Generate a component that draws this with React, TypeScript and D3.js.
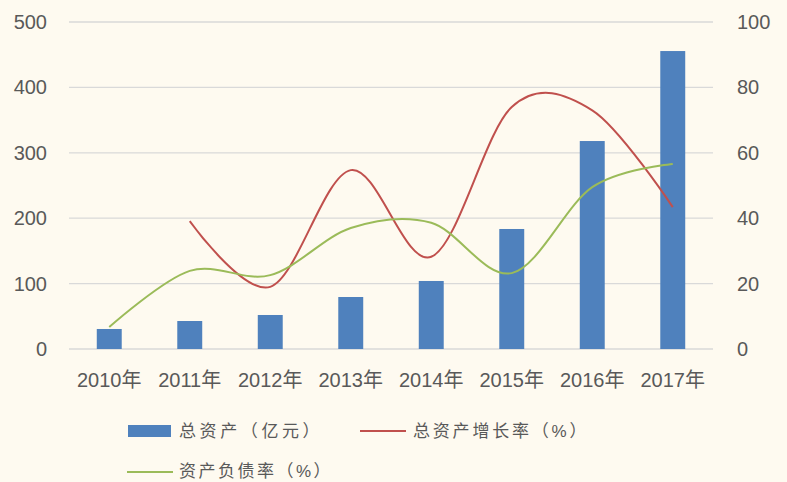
import React from 'react'
import * as d3 from 'd3'

const years = ['2010年', '2011年', '2012年', '2013年', '2014年', '2015年', '2016年', '2017年']
const totalAssets = [30.6, 42.8, 52, 79.5, 104, 183.5, 318, 455.6]
const growthRate = [null, 39.1, 19, 54.7, 28.2, 74, 73, 43.4]
const debtRatio = [6.7, 23.9, 22.6, 37, 38.6, 23.2, 49.5, 56.6]
const leftTicks = [0, 100, 200, 300, 400, 500]
const rightTicks = [0, 20, 40, 60, 80, 100]

const W = 787
const H = 482
const margin = { top: 22, right: 74, bottom: 133, left: 69 }
const font = '"Liberation Sans", "Noto Sans CJK SC", sans-serif'
const textColor = '#595959'

export default function App() {
  const x = d3.scaleBand().domain(years).range([margin.left, W - margin.right]).paddingInner(0.69).paddingOuter(0.345)
  const yL = d3.scaleLinear().domain([0, 500]).range([H - margin.bottom, margin.top])
  const yR = d3.scaleLinear().domain([0, 100]).range([H - margin.bottom, margin.top])
  const cx = (d: string) => (x(d) as number) + x.bandwidth() / 2

  const line = d3.line<[string, number | null]>()
    .defined(d => d[1] != null)
    .x(d => cx(d[0]))
    .y(d => yR(d[1] as number))
    .curve(d3.curveCardinal.tension(0))

  const growthPts = years.map((y, i) => [y, growthRate[i]] as [string, number | null]).filter(d => d[1] != null)
  const debtPts = years.map((y, i) => [y, debtRatio[i]] as [string, number | null])

  return (
    <div>
      <style>{`body{margin:0;background:#fefaf0}`}</style>
      <svg width={W} height={H} style={{ display: 'block', background: '#fefaf0' }}>
        {/* grid + left axis */}
        {leftTicks.map(t => (
          <g key={t}>
            <line x1={margin.left} x2={W - margin.right} y1={yL(t)} y2={yL(t)} stroke="#d9d9d9" strokeWidth={1.3} />
            <text x={47} y={yL(t)} dy="0.35em" textAnchor="end" fontSize={20} fill={textColor} fontFamily={font}>{t}</text>
          </g>
        ))}
        {rightTicks.map(t => (
          <text key={t} x={737} y={yR(t)} dy="0.35em" textAnchor="start" fontSize={20} fill={textColor} fontFamily={font}>{t}</text>
        ))}
        {/* bars */}
        {years.map((y, i) => (
          <rect key={y} x={x(y)} y={yL(totalAssets[i])} width={x.bandwidth()} height={yL(0) - yL(totalAssets[i])} fill="#4f81bd" />
        ))}
        {/* lines */}
        <path d={line(growthPts) || ''} fill="none" stroke="#c0504d" strokeWidth={2} />
        <path d={line(debtPts) || ''} fill="none" stroke="#9bbb59" strokeWidth={2} />
        {/* x labels */}
        {years.map(y => (
          <text key={y} x={cx(y)} y={380} dy="0.35em" textAnchor="middle" fontSize={20} fill={textColor} fontFamily={font}>{y}</text>
        ))}
        {/* legend */}
        <rect x={128} y={425} width={43} height={12} fill="#4f81bd" />
        <text x={179} y={431} dy="0.35em" fontSize={17} letterSpacing={3.6} fill={textColor} fontFamily={font}>总资产（亿元）</text>
        <line x1={360} x2={406} y1={431} y2={431} stroke="#c0504d" strokeWidth={2} />
        <text x={413} y={431} dy="0.35em" fontSize={17} letterSpacing={2.8} fill={textColor} fontFamily={font}>总资产增长率（%）</text>
        <line x1={127} x2={173} y1={472} y2={472} stroke="#9bbb59" strokeWidth={2} />
        <text x={179} y={471} dy="0.35em" fontSize={17} letterSpacing={2.5} fill={textColor} fontFamily={font}>资产负债率（%）</text>
      </svg>
    </div>
  )
}
